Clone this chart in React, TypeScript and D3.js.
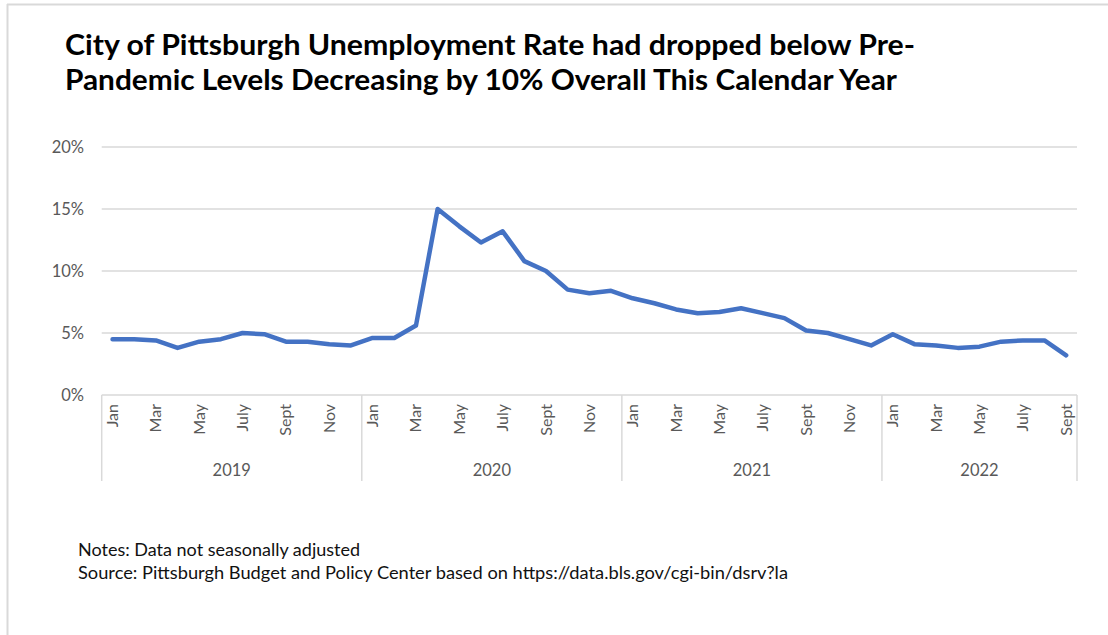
import * as d3 from "d3";

const LINE_COLOR = "#4472C4";
const GRID_COLOR = "#d9d9d9";
const TEXT_GRAY = "#595959";
const FONT = "Lato, 'Open Sans', sans-serif";

// data, unemployment rate in %
const years = ["2019", "2020", "2021", "2022"];
const monthLabels = ["Jan", "Feb", "Mar", "Apr", "May", "June", "July", "Aug", "Sept", "Oct", "Nov", "Dec"];
const rate2019 = [4.5, 4.5, 4.4, 3.8, 4.3, 4.5, 5.0, 4.9, 4.3, 4.3, 4.1, 4.0];
const rate2020 = [4.6, 4.6, 5.6, 15.0, 13.6, 12.3, 13.2, 10.8, 10.0, 8.5, 8.2, 8.4];
const rate2021 = [7.8, 7.4, 6.9, 6.6, 6.7, 7.0, 6.6, 6.2, 5.2, 5.0, 4.5, 4.0];
const rate2022 = [4.9, 4.1, 4.0, 3.8, 3.9, 4.3, 4.4, 4.4, 3.2];
const yTicks = [0, 5, 10, 15, 20];

const titleLines = [
  "City of Pittsburgh Unemployment Rate had dropped below Pre-",
  "Pandemic Levels Decreasing by 10% Overall This Calendar Year",
];
const notes = [
  "Notes: Data not seasonally adjusted",
  "Source: Pittsburgh Budget and Policy Center based on https://data.bls.gov/cgi-bin/dsrv?la",
];

const App = () => {
  const width = 1108;
  const height = 635;
  const left = 101.7;
  const right = 1077;
  const top = 147;
  const bottom = 395;

  const series = [rate2019, rate2020, rate2021, rate2022];
  const points = series.flatMap((arr, yi) =>
    arr.map((v, mi) => ({ year: years[yi], month: mi, value: v }))
  );
  const idx = points.map((_, i) => i);

  const x = d3.scaleBand<number>().domain(idx).range([left, right]);
  const cx = (i: number) => (x(i) as number) + x.bandwidth() / 2;
  const y = d3.scaleLinear().domain([0, 20]).range([bottom, top]);

  const line = d3
    .line<{ value: number }>()
    .x((_, i) => cx(i))
    .y((d) => y(d.value));

  // year group boundaries
  let start = 0;
  const groups = series.map((arr, yi) => {
    const g = { year: years[yi], x0: x(start) as number, x1: (x(start) as number) + arr.length * x.bandwidth() };
    start += arr.length;
    return g;
  });
  const separators = [left, ...groups.map((g) => g.x1)];

  return (
    <svg
      width={width}
      height={height}
      style={{ position: "absolute", left: 0, top: 0, background: "white" }}
    >
      {/* frame */}
      <line x1={7} y1={4.5} x2={width} y2={4.5} stroke={GRID_COLOR} strokeWidth={2} />
      <line x1={7.5} y1={4} x2={7.5} y2={height} stroke={GRID_COLOR} strokeWidth={2} />

      {/* title */}
      {titleLines.map((t, i) => (
        <text
          key={i}
          x={65}
          y={55 + i * 35}
          fontFamily={FONT}
          fontWeight="bold"
          fontSize={28}
          fill="#000"
          textLength={i === 0 ? 850 : 832}
          lengthAdjust="spacingAndGlyphs"
        >
          {t}
        </text>
      ))}

      {/* gridlines */}
      {yTicks.map((t) => (
        <g key={t}>
          <line x1={left} x2={right} y1={y(t)} y2={y(t)} stroke={GRID_COLOR} strokeWidth={1.5} />
          <text
            x={84}
            y={y(t)}
            dy="0.35em"
            textAnchor="end"
            fontFamily={FONT}
            fontSize={16.5}
            fill={TEXT_GRAY}
          >
            {t}%
          </text>
        </g>
      ))}

      {/* category separators */}
      {separators.map((sx, i) => (
        <line key={i} x1={sx} x2={sx} y1={bottom} y2={481} stroke={GRID_COLOR} strokeWidth={1.5} />
      ))}

      {/* month labels */}
      {points.map((p, i) =>
        p.month % 2 === 0 ? (
          <text
            key={i}
            transform={`translate(${cx(i) + 5.5},404) rotate(-90)`}
            textAnchor="end"
            fontFamily={FONT}
            fontSize={16}
            fill={TEXT_GRAY}
          >
            {monthLabels[p.month]}
          </text>
        ) : null
      )}

      {/* year labels */}
      {groups.map((g) => (
        <text
          key={g.year}
          x={(g.x0 + g.x1) / 2}
          y={476}
          textAnchor="middle"
          fontFamily={FONT}
          fontSize={16.5}
          fill={TEXT_GRAY}
        >
          {g.year}
        </text>
      ))}

      {/* series */}
      <path
        d={line(points) as string}
        fill="none"
        stroke={LINE_COLOR}
        strokeWidth={4.5}
        strokeLinejoin="round"
        strokeLinecap="round"
      />

      {/* notes */}
      {notes.map((n, i) => (
        <text
          key={i}
          x={78}
          y={556 + i * 23}
          fontFamily={FONT}
          fontSize={17}
          fill="#111"
          textLength={i === 0 ? 282 : 710}
          lengthAdjust="spacingAndGlyphs"
        >
          {n}
        </text>
      ))}
    </svg>
  );
};

export default App;
